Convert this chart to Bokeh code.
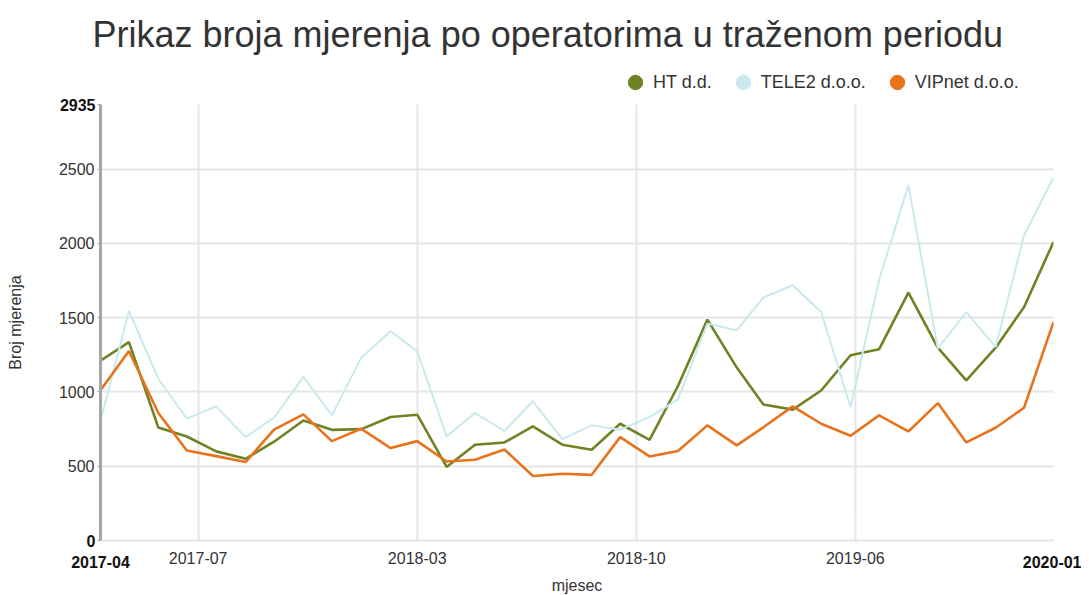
import pandas as pd
from bokeh.plotting import figure
from bokeh.layouts import column
from bokeh.models import (ColumnDataSource, Legend, LegendItem, FixedTicker,
                          DatetimeTickFormatter, DatetimeAxis, LinearAxis)
from bokeh.embed import file_html
from bokeh.resources import INLINE

months = pd.date_range("2017-04-01", "2020-01-01", freq="MS")

ht = [1210, 1335, 760, 700, 600, 550, 665, 808, 745, 750, 831, 847,
      495, 645, 660, 768, 645, 611, 786, 678, 1040, 1487, 1164, 916,
      881, 1010, 1247, 1287, 1669, 1298, 1078, 1298, 1572, 2010]
tele2 = [805, 1545, 1089, 820, 903, 696, 827, 1101, 842, 1231, 1408, 1274,
         701, 858, 737, 937, 683, 775, 746, 831, 950, 1460, 1415, 1636,
         1718, 1538, 898, 1752, 2392, 1292, 1538, 1303, 2055, 2444]
vipnet = [1012, 1276, 858, 606, 568, 528, 746, 849, 669, 752, 622, 669,
          532, 544, 613, 434, 449, 442, 696, 566, 602, 775, 640, 762,
          903, 786, 705, 842, 734, 925, 660, 759, 894, 1471]

series_names = ["HT d.d.", "TELE2 d.o.o.", "VIPnet d.o.o."]
colors = ["#6e8424", "#c9e9ee", "#e8731c"]
widths = [2.6, 2.0, 2.6]

y_max = 2935
y_ticks = [0, 500, 1000, 1500, 2000, 2500, 2935]
x_tick_dates = ["2017-07-13", "2018-03-01", "2018-10-18", "2019-06-06"]

FONT = "Liberation Sans"
TXT = "#333333"
BOLD = "#111111"
FS = "16px"
W = 1081

def ms(d):
    return pd.Timestamp(d).timestamp() * 1000.0

# ---------- header: title + legend ----------
hdr = figure(width=W, height=94, x_range=(0, 1), y_range=(0, 1),
             output_backend="svg", toolbar_location=None,
             x_axis_location=None, y_axis_location=None,
             min_border_left=0, min_border_right=0, min_border_bottom=0,
             min_border_top=54)
hdr.outline_line_color = None
hdr.xgrid.visible = False
hdr.ygrid.visible = False
hdr.title.text = "Prikaz broja mjerenja po operatorima u traženom periodu"
hdr.title.align = "left"
hdr.title.offset = -8
hdr.title.text_font = FONT
hdr.title.text_font_size = "36px"
hdr.title.text_font_style = "normal"
hdr.title.text_color = TXT
hdr.title.standoff = 0

items = []
for name, c in zip(series_names, colors):
    r = hdr.scatter(x=[float("nan")], y=[float("nan")], marker="circle",
                    fill_color=c, line_color=c)
    items.append(LegendItem(label=name, renderers=[r]))
legend = Legend(items=items, orientation="horizontal", location=(517, -6))
legend.label_text_font = FONT
legend.label_text_font_size = "18px"
legend.label_text_color = TXT
legend.glyph_width = 36
legend.glyph_height = 36
legend.label_standoff = 0
legend.spacing = 13
legend.padding = 0
legend.margin = 0
legend.border_line_color = None
legend.background_fill_alpha = 0
hdr.add_layout(legend)

# ---------- main plot ----------
src = ColumnDataSource(dict(x=months, ht=ht, tele2=tele2, vipnet=vipnet))

p = figure(frame_width=953, frame_height=436, x_axis_type="datetime",
           x_range=(ms(months[0]), ms(months[-1])), y_range=(0, y_max),
           output_backend="svg", toolbar_location=None,
           min_border_left=100, min_border_right=28, min_border_top=10,
           min_border_bottom=50)
p.outline_line_color = None
p.background_fill_color = "white"
p.border_fill_color = "white"

p.xgrid.ticker = FixedTicker(ticks=[ms(d) for d in x_tick_dates])
p.ygrid.ticker = FixedTicker(ticks=y_ticks[:-1])
for g in (p.xgrid[0], p.ygrid[0]):
    g.grid_line_color = "#e6e6e6"
    g.grid_line_width = 2

for key, c, w in zip(["ht", "tele2", "vipnet"], colors, widths):
    p.line("x", key, source=src, line_color=c, line_width=w)

fmt = "%Y-%m"
def dt_fmt():
    return DatetimeTickFormatter(milliseconds=fmt, seconds=fmt, minsec=fmt,
                                 minutes=fmt, hourmin=fmt, hours=fmt, days=fmt,
                                 months=fmt, years=fmt)

# inner x axis: bold end labels
xa = p.xaxis[0]
xa.ticker = FixedTicker(ticks=[ms(months[0]), ms(months[-1])])
xa.formatter = dt_fmt()
xa.axis_line_color = "#e6e6e6"
xa.axis_line_width = 2
xa.major_tick_line_color = None
xa.major_tick_out = 0
xa.major_tick_in = 0
xa.minor_tick_line_color = None
xa.major_label_standoff = 15
xa.major_label_text_font = FONT
xa.major_label_text_font_size = FS
xa.major_label_text_font_style = "bold"
xa.major_label_text_color = BOLD

# outer x axis: regular labels, pulled up onto the same line
xo = DatetimeAxis(ticker=FixedTicker(ticks=[ms(d) for d in x_tick_dates]),
                  formatter=dt_fmt())
xo.axis_line_color = None
xo.major_tick_line_color = None
xo.major_tick_out = 0
xo.major_tick_in = 0
xo.minor_tick_line_color = None
xo.major_label_standoff = -19
xo.major_label_text_font = FONT
xo.major_label_text_font_size = FS
xo.major_label_text_color = TXT
xo.axis_label = "mjesec"
xo.axis_label_text_font = FONT
xo.axis_label_text_font_size = FS
xo.axis_label_text_font_style = "normal"
xo.axis_label_text_color = TXT
xo.axis_label_standoff = 10
p.add_layout(xo, "below")

# inner y axis: axis line, ticks, bold 0 and max
ya = p.yaxis[0]
ya.ticker = FixedTicker(ticks=y_ticks)
ya.major_label_overrides = {t: "" for t in y_ticks[1:-1]}
ya.axis_line_color = "#a6a6a6"
ya.axis_line_width = 3
ya.major_tick_line_color = "#a6a6a6"
ya.major_tick_out = 3
ya.major_tick_in = 0
ya.minor_tick_line_color = None
ya.major_label_standoff = 2
ya.major_label_text_font = FONT
ya.major_label_text_font_size = FS
ya.major_label_text_font_style = "bold"
ya.major_label_text_color = BOLD

# outer y axis: regular labels pulled right onto the same column
yo = LinearAxis(ticker=FixedTicker(ticks=y_ticks[1:-1]))
yo.axis_line_color = None
yo.major_tick_line_color = None
yo.major_tick_out = 0
yo.major_tick_in = 0
yo.minor_tick_line_color = None
yo.major_label_standoff = -38
yo.major_label_text_font = FONT
yo.major_label_text_font_size = FS
yo.major_label_text_color = TXT
yo.axis_label = "Broj mjerenja"
yo.axis_label_text_font = FONT
yo.axis_label_text_font_size = FS
yo.axis_label_text_font_style = "normal"
yo.axis_label_text_color = TXT
yo.axis_label_standoff = 32
p.add_layout(yo, "left")

layout = column(hdr, p, spacing=0)
open("out.html", "w").write(file_html(layout, INLINE))
